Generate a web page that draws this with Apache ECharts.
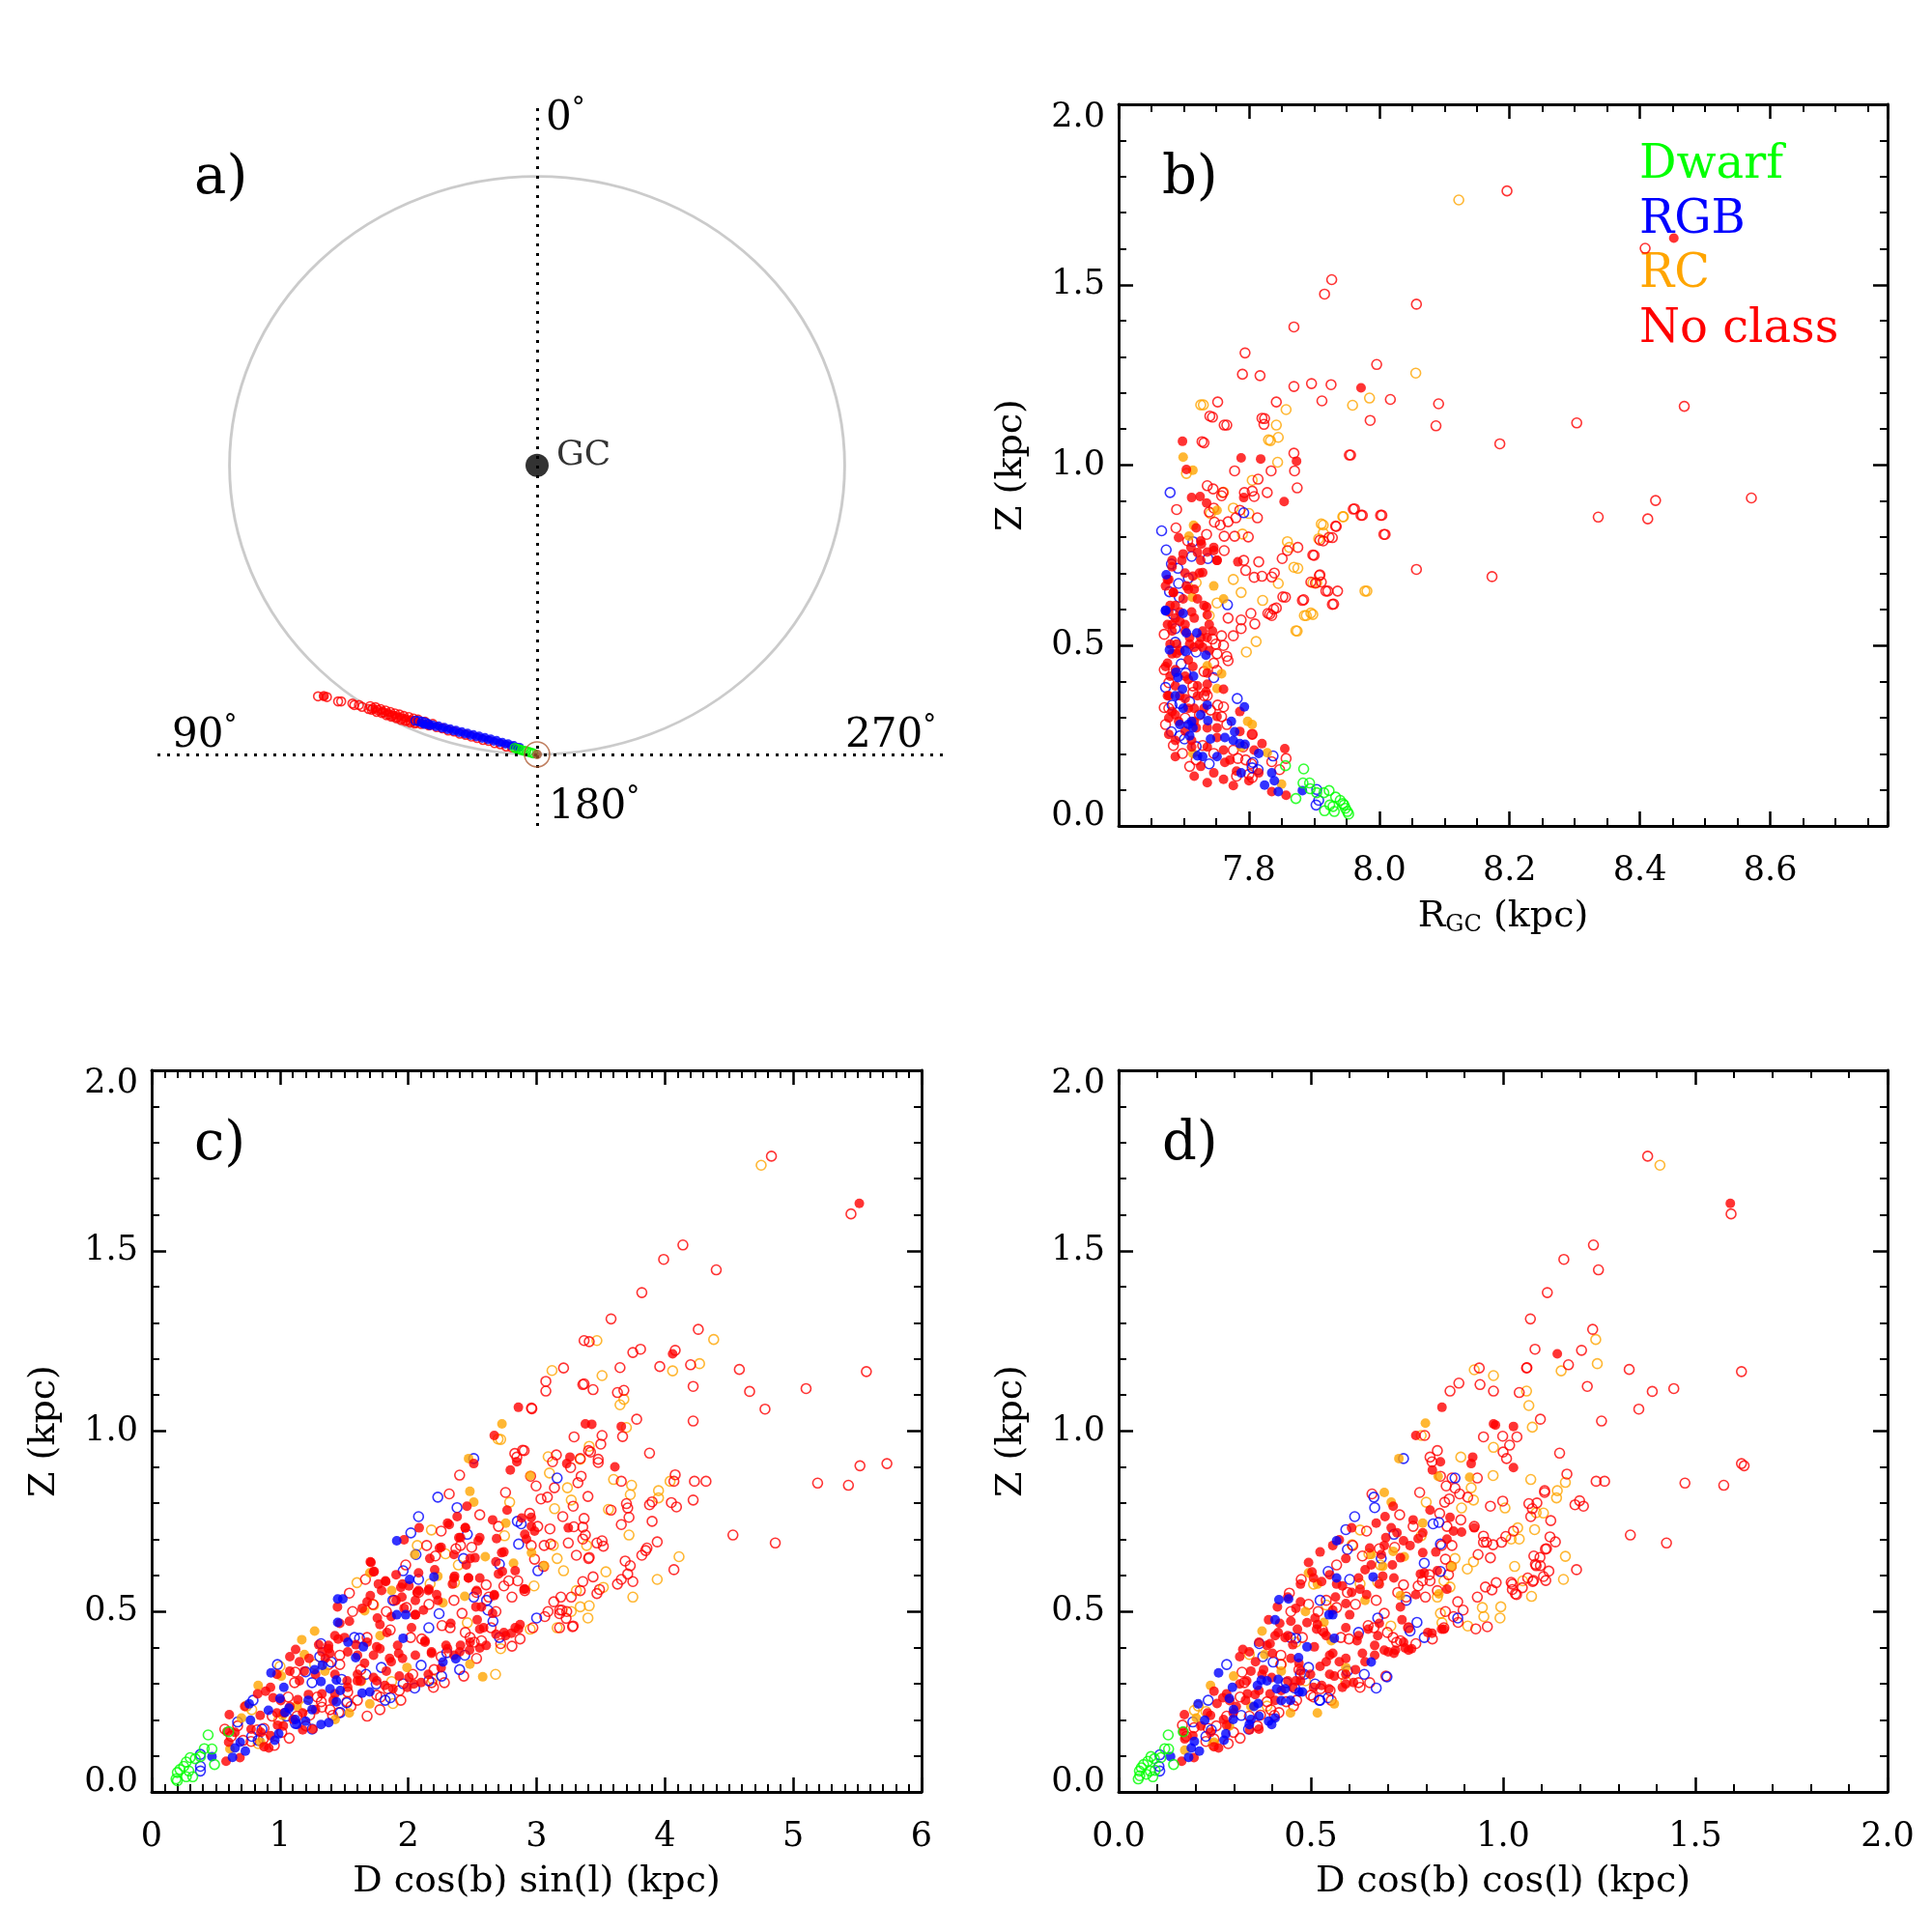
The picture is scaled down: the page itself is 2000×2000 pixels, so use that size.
<!DOCTYPE html>
<html>
<head>
<meta charset="utf-8">
<title>Z vs R_GC and projected distances</title>
<script src="https://cdn.jsdelivr.net/npm/echarts@6.0.0/dist/echarts.min.js"></script>
<style>
  html, body { margin: 0; padding: 0; background: #fff; }
  #main { width: 2000px; height: 2000px; }
</style>
</head>
<body>
<div id="main"></div>
<script>
/**
 * Four panels: a) top-down view, b) Z vs R_GC,
 * c) Z vs D cos(b) sin(l), d) Z vs D cos(b) cos(l)
 */

// ---------- panel a : X = D cos(b) sin(l), Y = D cos(b) cos(l) (kpc), Sun at 0,0 ----------
var R0 = 7.96;
var aRedOpen = [[5.67,1.60],[5.52,1.61],[5.44,1.58],[5.15,1.46],[5.07,1.46],[4.78,1.40],[4.73,1.36],[4.61,1.36],[4.53,1.31],[4.36,1.25],
  [4.32,1.33],[4.25,1.27],[4.18,1.30],[4.12,1.22],[4.05,1.25],[3.98,1.16],[3.92,1.21],[3.85,1.10],[3.8,1.17],[3.74,1.07],[3.68,1.13],
  [3.62,1.03],[3.56,1.10],[3.5,0.99],[3.45,1.06],[3.38,0.95],[3.32,1.03],[3.26,0.92],[3.2,0.99],[3.14,0.88],[3.08,0.96],[3.0,0.84],
  [2.9,0.9],[2.8,0.8],[2.7,0.84],[2.6,0.75],[2.45,0.72],[2.3,0.66],[2.15,0.63],[2.0,0.57],[1.85,0.54],[1.7,0.49],[1.55,0.45],
  [1.4,0.4],[1.25,0.37],[1.1,0.31],[0.95,0.28],[0.8,0.22],[0.65,0.19],
  [4.28,1.23],[4.15,1.17],[4.02,1.14],[3.9,1.08],[3.77,1.04],[3.64,1.0],[3.52,0.95],[3.4,0.92],[3.28,0.88],[3.16,0.85]];
var aRedFilled = [[5.52,1.60],[4.2,1.24],[4.0,1.2],[3.85,1.14],[3.7,1.08],[3.55,1.04],[3.4,0.99],[3.25,0.96],[3.1,0.9],[2.95,0.86],[2.8,0.82]];
var aBlueOpen = [[3.15,0.93],[3.07,0.92],[2.98,0.90],[2.9,0.88],[2.82,0.84]];
var aBlueFilled = [[3.0,0.87],[2.92,0.82],[2.85,0.85],[2.77,0.79],[2.7,0.82],[2.62,0.76],[2.55,0.79],[2.47,0.72],[2.4,0.75],[2.32,0.68],
  [2.25,0.71],[2.17,0.64],[2.1,0.67],[2.02,0.6],[1.95,0.63],[1.87,0.56],[1.8,0.59],[1.72,0.52],[1.65,0.55],[1.57,0.48],[1.5,0.51],
  [1.42,0.44],[1.35,0.47],[1.27,0.4],[1.2,0.43],[1.12,0.36],[1.05,0.39],[0.97,0.32],[0.9,0.34],[0.82,0.28],[0.75,0.3],[0.67,0.24],
  [0.6,0.25],[0.52,0.2],[0.45,0.2]];
var aGreenOpen = [[0.58,0.18],[0.52,0.16],[0.46,0.14],[0.4,0.12],[0.34,0.1],[0.28,0.09],[0.22,0.07],[0.16,0.05],[0.1,0.03]];

// ---------- panel b : R_GC (kpc), Z (kpc) ----------
var bGreenOpen = [[7.872,0.076],[7.884,0.158],[7.883,0.119],[7.893,0.119],[7.894,0.103],[7.904,0.092],[7.915,0.092],[7.916,0.042],
  [7.923,0.098],[7.924,0.058],[7.929,0.054],[7.931,0.04],[7.933,0.08],[7.94,0.071],[7.944,0.062],[7.946,0.058],[7.948,0.049],
  [7.951,0.04],[7.953,0.033],[7.856,0.167]];
var bBlueFilled = [[7.673,0.696],[7.672,0.598],[7.699,0.589],[7.704,0.535],[7.72,0.535],[7.734,0.473],[7.688,0.426],[7.691,0.411],
  [7.698,0.379],[7.699,0.326],[7.707,0.281],[7.712,0.29],[7.714,0.272],[7.726,0.308],[7.737,0.292],[7.741,0.241],[7.736,0.335],
  [7.763,0.245],[7.773,0.29],[7.776,0.237],[7.778,0.261],[7.786,0.228],[7.788,0.147],[7.793,0.33],[7.794,0.226],[7.815,0.201],
  [7.824,0.113],[7.835,0.147],[7.839,0.125],[7.845,0.095],[7.882,0.098],[7.729,0.192],[7.751,0.192],[7.687,0.361],[7.694,0.281],
  [7.678,0.488],[7.702,0.486],[7.715,0.415],[7.709,0.25],[7.721,0.194],[7.672,0.596]];
var bBlueOpen = [[7.666,0.818],[7.673,0.765],[7.679,0.924],[7.681,0.726],[7.691,0.714],[7.692,0.672],[7.678,0.649],[7.693,0.634],
  [7.707,0.687],[7.712,0.747],[7.714,0.788],[7.737,0.741],[7.746,0.411],[7.767,0.613],[7.782,0.353],[7.792,0.868],[7.684,0.586],
  [7.687,0.509],[7.703,0.485],[7.719,0.482],[7.696,0.449],[7.703,0.424],[7.672,0.384],[7.682,0.335],[7.694,0.339],[7.709,0.344],
  [7.681,0.261],[7.694,0.25],[7.701,0.241],[7.719,0.22],[7.739,0.172],[7.806,0.176],[7.805,0.161],[7.814,0.156],[7.837,0.194],
  [7.904,0.101],[7.907,0.071],[7.903,0.058],[7.687,0.547]];
var bOrangeFilled = [[7.699,1.022],[7.714,0.986],[7.708,0.803],[7.715,0.833],[7.713,0.634],[7.746,0.665],[7.761,0.629],[7.751,0.381],
  [7.758,0.422],[7.798,0.29],[7.805,0.281],[7.788,0.219],[7.828,0.203],[7.85,0.116],[7.714,0.201],[7.736,0.444],[7.751,0.875]];
var bOrangeOpen = [[7.73,1.167],[7.704,0.977],[7.857,1.154],[7.845,1.077],[7.833,1.068],[7.844,1.008],[7.805,0.958],[7.761,0.925],
  [7.79,0.809],[7.8,0.866],[7.776,0.881],[7.859,0.788],[7.862,0.772],[7.875,0.714],[7.845,0.672],[7.914,0.834],[7.914,0.812],
  [7.945,0.857],[7.981,0.651],[7.898,0.674],[7.904,0.674],[7.888,0.583],[7.898,0.586],[7.874,0.54],[7.811,0.511],[7.796,0.482],
  [7.821,0.625],[7.788,0.647],[7.776,0.683],[7.751,0.618],[7.739,0.583],[7.741,0.866],[7.719,0.674],[8.122,1.735],[8.056,1.255],
  [7.985,1.186],[7.959,1.166],[7.726,1.167],[7.842,1.111],[7.83,1.07],[7.944,0.857],[7.978,0.651],[7.911,0.837],
  [7.907,0.796],[7.885,0.583],[7.895,0.59],[7.872,0.541],[7.869,0.717]];
var bRedFilled = [[7.698,1.066],[7.704,0.988],[7.712,0.91],[7.725,0.913],[7.735,0.895],[7.788,1.02],[7.818,1.017],[7.873,1.011],
  [7.854,0.899],[7.792,0.91],[7.783,0.732],[7.727,0.781],[7.751,0.736],[7.729,0.702],[7.735,0.607],[7.744,0.54],[7.726,0.522],
  [7.707,0.46],[7.687,0.433],[7.677,0.593],[7.684,0.647],[7.736,0.393],[7.734,0.372],[7.761,0.379],[7.786,0.317],[7.805,0.253],
  [7.808,0.21],[7.781,0.152],[7.8,0.125],[7.835,0.095],[7.857,0.085],[7.855,0.214],[7.751,0.303],[7.712,0.237],[7.763,0.176],
  [7.721,0.758],[7.746,0.772],[7.704,0.665],[7.682,0.718],[7.675,0.683],[7.687,0.611],[7.694,0.567],[7.682,0.558],[7.712,0.593],
  [7.702,0.54],[7.709,0.504],[7.689,0.478],[7.675,0.451],[7.714,0.442],[7.721,0.388],[7.677,0.361],[7.702,0.353],[7.716,0.326],
  [7.677,0.299],[7.687,0.237],[7.736,0.272],[7.751,0.245],[7.761,0.21],[7.736,0.219],[7.719,0.272],[7.699,0.754],[7.692,0.799],
  [7.719,0.826],[7.672,0.665],[7.716,0.656],[7.702,0.415],[7.729,0.495],[7.687,0.308],[7.786,0.262],[7.82,0.228],[7.771,0.183],
  [7.815,0.147],[8.452,1.629],[7.972,1.214],
  [7.682,0.736],[7.677,0.683],[7.684,0.647],[7.679,0.611],[7.687,0.576],[7.682,0.54],[7.689,0.504],[7.697,0.736],[7.702,0.701],
  [7.707,0.656],[7.699,0.629],[7.694,0.593],[7.702,0.558],[7.709,0.522],[7.716,0.495],[7.724,0.701],[7.726,0.736],[7.721,0.629],
  [7.731,0.611],[7.736,0.585],[7.729,0.54],[7.724,0.504],[7.739,0.558],[7.746,0.763],[7.751,0.736],[7.711,0.772],[7.726,0.79],
  [7.736,0.759],[7.694,0.486],[7.675,0.558],[7.679,0.504],[7.682,0.477],[7.716,0.576],[7.714,0.692],[7.736,0.522],[7.739,0.486],
  [7.672,0.442],[7.679,0.415],[7.687,0.388],[7.675,0.361],[7.694,0.361],[7.682,0.317],[7.707,0.326],[7.692,0.29],[7.716,0.29],
  [7.702,0.263],[7.677,0.254],[7.687,0.192],[7.712,0.219],[7.726,0.165],[7.746,0.147],[7.761,0.129],[7.736,0.12],[7.776,0.112],
  [7.716,0.138],[7.751,0.272],[7.731,0.326],[7.721,0.361],[7.736,0.424],[7.707,0.406]];
var bRedOpen = [[7.752,1.175],[7.842,1.175],[7.744,1.133],[7.766,1.111],[7.824,1.129],[7.823,1.113],[7.731,1.062],[7.778,0.984],
  [7.834,0.984],[7.814,0.961],[7.869,1.033],[7.87,0.984],[7.874,0.937],[7.736,0.943],[7.745,0.934],[7.76,0.924],[7.758,0.915],
  [7.793,0.924],[7.805,0.928],[7.808,0.913],[7.828,0.924],[7.689,0.877],[7.739,0.87],[7.746,0.881],[7.786,0.875],[7.78,0.854],
  [7.813,0.854],[7.688,0.826],[7.706,0.79],[7.735,0.808],[7.747,0.842],[7.756,0.834],[7.768,0.843],[7.762,0.803],[7.778,0.803],
  [7.799,0.801],[7.762,0.763],[7.792,0.736],[7.795,0.708],[7.815,0.732],[7.82,0.692],[7.808,0.689],[7.839,0.701],[7.835,0.69],
  [7.859,0.763],[7.851,0.741],[7.875,0.772],[7.9,0.75],[7.914,0.79],[7.928,0.799],[7.934,0.83],[7.956,1.028],[7.962,0.879],
  [7.974,0.861],[8.004,0.861],[8.009,0.808],[7.936,0.651],[7.884,0.627],[7.909,0.696],[7.911,0.676],[7.921,0.651],[7.93,0.615],
  [7.856,0.634],[7.842,0.604],[7.835,0.583],[7.829,0.589],[7.809,0.56],[7.803,0.589],[7.788,0.571],[7.788,0.547],[7.776,0.527],
  [7.768,0.576],[7.758,0.527],[7.744,0.518],[7.749,0.504],[7.761,0.5],[7.751,0.477],[7.766,0.47],[7.768,0.458],[7.746,0.451],
  [7.751,0.431],[7.731,0.428],[7.714,0.388],[7.714,0.37],[7.736,0.361],[7.752,0.335],[7.741,0.321],[7.758,0.303],[7.724,0.308],
  [7.702,0.299],[7.677,0.326],[7.67,0.328],[7.672,0.281],[7.684,0.223],[7.698,0.201],[7.719,0.183],[7.709,0.165],[7.729,0.223],
  [7.776,0.21],[7.783,0.187],[7.795,0.183],[7.804,0.172],[7.8,0.143],[7.805,0.134],[7.847,0.156],[7.857,0.187],[7.835,0.178],
  [7.781,0.138],[7.746,0.201],[7.677,0.397],[7.731,0.361],[7.791,0.219],[7.766,0.281],[7.761,0.33],[7.805,0.254],[7.67,0.531],
  [7.67,0.433],[8.196,1.76],[8.408,1.601],[7.927,1.514],[7.916,1.474],[8.057,1.446],[7.869,1.383],[7.794,1.311],[7.79,1.252],
  [7.817,1.248],[7.996,1.279],[7.869,1.218],[7.896,1.226],[7.926,1.223],[8.017,1.182],[8.091,1.17],[8.087,1.109],[7.912,1.178],
  [7.986,1.124],[8.468,1.163],[8.303,1.117],[8.185,1.059],[7.954,1.028],[7.74,1.136],[7.762,1.111],[7.82,1.13],
  [7.728,1.065],[8.424,0.902],[8.412,0.851],[8.336,0.856],[8.571,0.909],[8.057,0.711],[8.173,0.691],[7.96,0.878],[7.972,0.861],
  [8.002,0.861],[8.007,0.808],[7.923,0.8],[7.933,0.831],[7.898,0.751],[7.909,0.792],[7.895,0.676],[7.902,0.673],[7.908,0.694],
  [7.918,0.651],[7.928,0.614],[7.882,0.625],[7.852,0.635],[7.832,0.587],[7.838,0.601]];

// ---------- panel c : D cos(b) sin(l) (kpc), Z (kpc) ----------
var cGreenOpen = [[0.19,0.036],[0.2,0.054],[0.22,0.062],[0.25,0.071],[0.27,0.083],[0.3,0.095],[0.34,0.092],[0.29,0.058],[0.32,0.042],
  [0.27,0.042],[0.38,0.098],[0.41,0.12],[0.44,0.158],[0.47,0.119],[0.49,0.076],[0.6,0.167],[0.2,0.031]];
var cBlueFilled = [[0.47,0.098],[0.63,0.096],[0.65,0.122],[0.69,0.138],[0.73,0.113],[0.77,0.199],[0.76,0.244],[0.91,0.226],[0.93,0.33],
  [0.96,0.143],[0.99,0.161],[1.0,0.259],[1.03,0.29],[1.04,0.22],[1.07,0.232],[1.13,0.187],[1.2,0.196],[1.22,0.254],[1.25,0.228],
  [1.27,0.339],[1.32,0.187],[1.32,0.306],[1.33,0.351],[1.38,0.192],[1.39,0.286],[1.44,0.25],[1.44,0.31],[1.47,0.281],[1.53,0.415],
  [1.59,0.372],[1.64,0.274],[1.65,0.402],[1.7,0.277],[1.91,0.696],[1.91,0.491],[1.96,0.426],[1.98,0.491],[2.01,0.589],[2.2,0.596],
  [1.45,0.535],[1.49,0.535],[1.45,0.47],[2.27,0.36],[1.12,0.201],[2.37,0.369]];
var cBlueOpen = [[0.38,0.104],[0.38,0.071],[0.38,0.058],[0.67,0.194],[0.78,0.154],[0.79,0.254],[0.83,0.143],[0.86,0.174],[0.98,0.353],
  [1.05,0.21],[1.12,0.19],[1.2,0.333],[1.25,0.174],[1.25,0.303],[1.32,0.411],[1.31,0.375],[1.4,0.36],[1.47,0.22],[1.52,0.247],
  [1.58,0.428],[1.62,0.426],[1.67,0.326],[1.75,0.299],[1.79,0.345],[1.82,0.254],[1.86,0.261],[1.88,0.531],[1.96,0.613],[2.02,0.718],
  [2.06,0.658],[2.08,0.763],[2.08,0.589],[2.05,0.288],[2.1,0.351],[2.16,0.455],[2.16,0.308],[2.23,0.817],[2.24,0.494],[2.26,0.321],
  [2.3,0.386],[2.38,0.788],[2.4,0.339],[2.43,0.647],[2.44,0.379],[2.46,0.714],[2.51,0.54],[2.51,0.924],[2.61,0.531],[2.62,0.504],
  [2.66,0.473],[2.71,0.631],[2.71,0.428],[2.85,0.75],[2.88,0.743],[2.86,0.687],[3.0,0.482],[3.01,0.613],[3.16,0.87],[1.96,0.3],
  [1.48,0.312]];
var cOrangeFilled = [[0.61,0.119],[0.7,0.205],[0.83,0.295],[0.85,0.138],[1.01,0.321],[1.02,0.212],[1.17,0.422],[1.19,0.381],
  [1.27,0.446],[1.35,0.335],[1.43,0.201],[1.54,0.219],[1.66,0.502],[1.7,0.607],[1.78,0.433],[1.87,0.558],[1.99,0.345],[2.05,0.658],
  [2.23,0.598],[2.27,0.524],[2.44,0.542],[2.48,0.833],[2.51,0.803],[2.48,0.354],[2.6,0.652],[2.73,1.02],[2.76,0.745],[2.82,0.634],
  [2.95,0.877],[2.96,0.663],[3.06,0.627],[2.47,0.924],[1.7,0.244],[1.13,0.238],[2.58,0.319]];
var cOrangeOpen = [[0.78,0.228],[0.74,0.238],[0.83,0.134],[1.0,0.348],[0.99,0.199],[1.2,0.238],[1.27,0.353],[1.6,0.58],[1.63,0.308],
  [1.73,0.518],[1.87,0.306],[2.07,0.683],[2.18,0.726],[2.17,0.577],[2.29,0.66],[2.36,0.58],[2.39,0.629],[2.46,0.469],[2.79,0.803],
  [2.75,0.71],[2.98,0.571],[3.1,0.884],[3.13,0.683],[3.16,0.647],[3.21,0.613],[3.24,0.843],[3.27,0.809],[3.31,0.558],[3.27,0.5],
  [3.34,0.513],[3.39,0.683],[3.4,0.482],[3.16,0.455],[2.95,0.451],[3.14,0.785],[2.72,0.977],[2.72,0.397],[2.68,0.326],[1.88,0.245],
  [2.19,0.312],[4.75,1.737],[3.47,1.251],[4.38,1.254],[4.27,1.187],[4.06,1.167],[3.12,1.168],[3.51,1.154],[3.68,1.088],[3.65,1.073],
  [3.7,1.01],[2.7,0.978],[3.41,0.958],[3.34,0.922],[3.09,0.929],[4.04,0.861],[3.95,0.835],[3.95,0.815],[3.94,0.589],[4.11,0.652],
  [3.74,0.85],[3.73,0.824],[3.72,0.712],[3.75,0.54],[3.6,0.866],[3.56,0.783],[3.52,0.567],[3.41,0.516],[3.54,0.61]];
var cRedFilled = [[0.58,0.085],[0.587,0.167],[0.605,0.214],[0.688,0.095],[0.846,0.212],[0.876,0.125],[0.888,0.279],[0.913,0.122],
  [0.946,0.261],[0.981,0.185],[1.006,0.253],[1.031,0.219],[1.077,0.375],[1.122,0.395],[1.139,0.256],[1.152,0.308],[1.177,0.172],
  [1.189,0.335],[1.222,0.27],[1.257,0.174],[1.277,0.326],[1.302,0.408],[1.378,0.406],[1.39,0.384],[1.415,0.254],[1.428,0.433],
  [1.448,0.513],[1.466,0.467],[1.503,0.428],[1.523,0.308],[1.541,0.473],[1.591,0.408],[1.603,0.308],[1.641,0.509],[1.659,0.357],
  [1.679,0.527],[1.709,0.636],[1.729,0.61],[1.754,0.402],[1.759,0.482],[1.779,0.464],[1.817,0.295],[1.824,0.583],[1.834,0.442],
  [1.867,0.361],[1.88,0.286],[1.905,0.602],[1.925,0.384],[1.93,0.321],[1.95,0.54],[1.955,0.576],[1.967,0.699],[1.992,0.29],
  [2.005,0.571],[2.025,0.455],[2.043,0.299],[2.055,0.491],[2.068,0.553],[2.085,0.732],[2.1,0.303],[2.13,0.419],[2.161,0.562],
  [2.181,0.384],[2.206,0.616],[2.221,0.547],[2.243,0.676],[2.294,0.406],[2.306,0.745],[2.331,0.467],[2.344,0.576],[2.356,0.658],
  [2.361,0.598],[2.381,0.763],[2.394,0.705],[2.401,0.388],[2.444,0.732],[2.452,0.629],[2.457,0.792],[2.469,0.593],[2.477,0.393],
  [2.52,0.649],[2.527,0.513],[2.537,0.477],[2.545,0.696],[2.557,0.399],[2.587,0.455],[2.657,0.754],[2.67,0.547],[2.688,0.702],
  [2.703,0.604],[2.728,0.663],[2.745,0.442],[2.77,0.781],[2.795,0.892],[2.803,0.44],[2.833,0.613],[2.846,0.915],[2.858,0.451],
  [2.858,1.066],[2.903,0.562],[2.921,0.701],[2.958,0.761],[2.984,0.723],[3.235,0.91],[3.26,0.928],[3.247,0.732],[3.38,1.02],
  [2.67,0.988],[2.683,0.437],[5.515,1.631],[4.06,1.214],[3.66,1.013],[3.43,1.019],[3.61,0.901],[2.51,0.91],
  [1.704,0.638],[1.734,0.611],[1.822,0.585],[1.767,0.576],[1.704,0.544],[1.792,0.558],[1.942,0.567],[1.967,0.509],[1.905,0.531],
  [1.867,0.486],[2.055,0.531],[2.08,0.558],[2.156,0.558],[2.055,0.491],[2.118,0.504],[2.231,0.531],[2.08,0.607],[2.168,0.647],
  [2.256,0.678],[2.319,0.741],[2.444,0.732],[2.407,0.705],[2.356,0.593],[2.469,0.593],[2.482,0.647],[2.532,0.558],[2.557,0.593],
  [2.57,0.513],[2.657,0.495],[2.67,0.544],[2.683,0.638],[2.733,0.611],[2.745,0.665],[2.557,0.705],[2.883,0.759],[2.908,0.714],
  [2.959,0.736],[2.908,0.562],[2.758,0.433],[2.833,0.455],[2.871,0.464],[2.557,0.451],[2.607,0.406],[2.482,0.415],[2.407,0.406],
  [2.356,0.379],[2.306,0.397],[2.256,0.344],[2.181,0.388],[2.13,0.415],[2.055,0.379],[1.955,0.37],[1.917,0.406],[1.854,0.37],
  [1.779,0.397],[1.729,0.379],[1.679,0.415],[1.604,0.379],[1.528,0.388],[1.453,0.424],[1.378,0.397],[1.353,0.37],[1.428,0.326],
  [1.604,0.326],[1.754,0.308],[1.829,0.335],[2.005,0.317],[2.156,0.326],
  [0.775,0.174],[0.851,0.165],[0.926,0.156],[1.026,0.183],[1.102,0.201],[1.177,0.219],[1.277,0.228],[1.327,0.272],[1.428,0.272],
  [1.528,0.29],[1.629,0.308],[1.729,0.317],[0.725,0.237],[0.826,0.272],[0.926,0.29],[0.976,0.326],[1.077,0.335],[1.152,0.361],
  [1.227,0.37],[1.327,0.388],[1.077,0.237],[0.976,0.219],[0.65,0.165],[0.6,0.138]];
var cRedOpen = [[0.57,0.174],[0.62,0.154],[0.67,0.183],[0.713,0.143],[0.775,0.14],[0.821,0.172],[0.876,0.176],[0.871,0.147],
  [0.939,0.21],[0.956,0.129],[1.014,0.165],[1.072,0.149],[1.064,0.263],[1.119,0.332],[1.114,0.303],[1.132,0.21],[1.202,0.183],
  [1.232,0.213],[1.322,0.25],[1.327,0.235],[1.39,0.228],[1.41,0.212],[1.458,0.22],[1.466,0.353],[1.466,0.379],[1.523,0.25],
  [1.541,0.551],[1.566,0.5],[1.553,0.237],[1.603,0.254],[1.629,0.339],[1.666,0.589],[1.679,0.428],[1.724,0.52],[1.754,0.268],
  [1.784,0.263],[1.829,0.5],[1.842,0.286],[1.859,0.449],[1.892,0.531],[1.93,0.281],[1.942,0.254],[1.98,0.629],[1.985,0.511],
  [2.018,0.428],[2.035,0.326],[2.08,0.553],[2.105,0.424],[2.143,0.683],[2.161,0.52],[2.181,0.303],[2.196,0.29],[2.211,0.654],
  [2.256,0.723],[2.263,0.461],[2.281,0.303],[2.319,0.826],[2.326,0.455],[2.356,0.531],[2.371,0.674],[2.419,0.495],[2.432,0.321],
  [2.444,0.442],[2.482,0.428],[2.494,0.678],[2.514,0.415],[2.532,0.553],[2.557,0.768],[2.57,0.419],[2.607,0.574],[2.627,0.54],
  [2.645,0.455],[2.703,0.736],[2.72,0.411],[2.745,0.571],[2.758,0.83],[2.783,0.585],[2.808,0.54],[2.846,0.928],[2.853,0.585],
  [2.871,0.424],[2.903,0.946],[2.908,0.558],[2.946,0.772],[2.953,0.875],[2.958,0.683],[2.971,0.455],[2.984,0.645],[2.996,0.848],
  [3.009,0.736],[3.034,0.812],[3.054,0.625],[3.059,0.683],[3.064,0.486],[3.072,1.138],[3.072,1.111],[3.084,0.817],[3.089,0.5],
  [3.104,0.729],[3.109,0.687],[3.124,0.915],[3.134,0.527],[3.139,0.843],[3.154,0.934],[3.179,0.455],[3.179,0.494],[3.189,0.54],
  [3.197,0.504],[3.204,0.763],[3.235,0.5],[3.285,0.46],[3.247,0.69],[3.265,0.899],[3.285,0.792],[3.292,0.984],[3.31,0.656],
  [3.322,0.857],[3.34,0.924],[3.347,0.875],[3.36,0.734],[3.36,0.701],[3.36,0.583],[3.36,1.129],[3.405,0.946],[3.405,0.647],
  [3.21,1.175],[2.963,1.062],[2.808,0.404],[2.683,0.5],[2.532,0.37],[2.407,0.683],[2.256,0.375],[2.201,0.339],[1.779,0.228],
  [1.679,0.21],[1.378,0.353],[1.29,0.263],[1.528,0.277],
  [4.83,1.762],[5.45,1.602],[4.14,1.516],[3.99,1.476],[4.4,1.447],[3.82,1.384],[3.58,1.311],[3.37,1.251],[3.41,1.248],[4.26,1.282],
  [3.75,1.218],[3.81,1.227],[4.08,1.224],[4.2,1.184],[3.96,1.179],[4.58,1.171],[5.57,1.165],[5.1,1.118],[4.66,1.11],[4.22,1.124],
  [3.37,1.131],[3.44,1.115],[3.65,1.176],[3.63,1.107],[3.68,1.113],[4.78,1.061],[4.22,1.028],[3.78,1.033],[2.96,1.064],[3.67,0.985],
  [3.51,0.988],[3.5,0.964],[3.48,0.922],[3.48,0.913],[3.88,0.939],[2.89,0.947],[2.83,0.938],[3.42,0.942],[2.4,0.878],[4.08,0.879],
  [4.23,0.861],[4.32,0.861],[5.73,0.91],[5.52,0.904],[5.19,0.856],[5.43,0.85],[4.53,0.712],[4.86,0.69],[3.88,0.796],[3.9,0.804],
  [4.05,0.802],[4.09,0.79],[4.22,0.809],[3.94,0.693],[4.07,0.616],[3.9,0.75],[3.71,0.787],[3.66,0.741],[3.72,0.761],[3.69,0.64],
  [3.51,0.696],[3.52,0.681],[3.47,0.69],[3.41,0.65],[3.86,0.676],[3.85,0.669],[3.82,0.656],[3.73,0.627],[3.71,0.604],[3.66,0.589],
  [3.75,0.583],[3.49,0.561],[3.47,0.55],[3.28,0.458],[3.18,0.504],[3.23,0.481],[3.27,0.54],[3.34,0.558],[3.44,0.596],[3.63,0.576],
  [3.58,0.781],[3.7,0.799],[3.66,0.861],[3.4,0.819],[3.37,0.758],[3.29,0.735],[3.38,0.712],[4.07,0.861]];

// ---------- panel d : D cos(b) cos(l) (kpc), Z (kpc) ----------
var dGreenOpen = [[0.051,0.036],[0.054,0.058],[0.059,0.067],[0.065,0.076],[0.076,0.085],[0.084,0.098],[0.093,0.092],[0.072,0.049],
  [0.089,0.042],[0.082,0.058],[0.11,0.095],[0.12,0.12],[0.13,0.119],[0.129,0.158],[0.143,0.076],[0.168,0.167],[0.055,0.045],
  [0.095,0.06]];
var dBlueFilled = [[0.135,0.098],[0.182,0.096],[0.189,0.122],[0.197,0.14],[0.21,0.113],[0.207,0.244],[0.224,0.199],[0.26,0.33],
  [0.274,0.143],[0.279,0.161],[0.288,0.259],[0.296,0.29],[0.299,0.228],[0.298,0.201],[0.34,0.187],[0.344,0.201],[0.361,0.295],
  [0.363,0.245],[0.371,0.31],[0.386,0.308],[0.398,0.187],[0.411,0.286],[0.415,0.312],[0.423,0.253],[0.433,0.286],[0.447,0.254],
  [0.468,0.372],[0.469,0.277],[0.478,0.277],[0.49,0.402],[0.547,0.491],[0.557,0.491],[0.561,0.426],[0.567,0.696],[0.567,0.593],
  [0.407,0.205],[0.417,0.533],[0.442,0.535],[0.407,0.477],[0.662,0.596],[0.657,0.36],[0.352,0.237],[0.365,0.21],[0.39,0.196]];
var dBlueOpen = [[0.107,0.103],[0.105,0.071],[0.107,0.058],[0.193,0.194],[0.227,0.154],[0.233,0.254],[0.241,0.172],[0.281,0.353],
  [0.319,0.212],[0.338,0.174],[0.366,0.411],[0.375,0.375],[0.402,0.36],[0.436,0.303],[0.447,0.428],[0.461,0.426],[0.483,0.326],
  [0.494,0.345],[0.511,0.299],[0.524,0.254],[0.545,0.261],[0.524,0.531],[0.545,0.611],[0.591,0.727],[0.595,0.672],[0.601,0.589],
  [0.614,0.763],[0.624,0.442],[0.639,0.326],[0.664,0.817],[0.666,0.788],[0.67,0.288],[0.674,0.482],[0.683,0.647],[0.698,0.319],
  [0.716,0.714],[0.741,0.924],[0.748,0.531],[0.758,0.446],[0.776,0.47],[0.795,0.428],[0.795,0.634],[0.818,0.743],[0.833,0.747],
  [0.837,0.687],[0.837,0.611],[0.882,0.482],[0.875,0.87],[0.458,0.288],[0.473,0.326],[0.522,0.254],[0.595,0.335]];
var dOrangeFilled = [[0.172,0.116],[0.202,0.205],[0.239,0.295],[0.248,0.138],[0.288,0.183],[0.299,0.321],[0.344,0.237],[0.373,0.446],
  [0.38,0.381],[0.423,0.335],[0.447,0.219],[0.486,0.5],[0.494,0.607],[0.517,0.219],[0.517,0.576],[0.534,0.47],[0.553,0.419],
  [0.591,0.345],[0.641,0.531],[0.657,0.658],[0.687,0.625],[0.691,0.83],[0.709,0.803],[0.714,0.667],[0.733,0.544],[0.743,0.652],
  [0.791,0.745],[0.798,1.022],[0.831,0.875],[0.867,0.625],[0.913,0.872],[0.729,0.924],[0.833,0.549],[0.561,0.244]];
var dOrangeOpen = [[0.197,0.226],[0.207,0.238],[0.227,0.223],[0.246,0.131],[0.34,0.381],[0.386,0.238],[0.423,0.354],[0.461,0.415],
  [0.486,0.308],[0.507,0.576],[0.54,0.518],[0.591,0.306],[0.607,0.685],[0.628,0.726],[0.628,0.577],[0.651,0.66],[0.674,0.582],
  [0.681,0.629],[0.708,0.46],[0.787,0.71],[0.787,0.988],[0.8,0.803],[0.829,0.54],[0.837,0.495],[0.846,0.585],[0.862,0.568],
  [0.875,0.647],[0.89,0.928],[0.892,0.787],[0.907,0.618],[0.917,0.843],[0.923,0.809],[0.923,0.638],[0.946,0.511],[0.95,0.486],
  [0.975,1.154],[0.974,0.877],[0.994,0.513],[0.975,0.955],[1.005,0.787],[1.021,0.701],[1.03,0.625],[1.042,0.701],[1.051,0.585],
  [1.061,1.111],[1.067,1.071],[1.072,0.866],[1.076,1.011],[1.074,0.542],[1.086,0.774],[1.038,0.732],[0.908,0.46],[0.992,0.482],
  [0.925,1.17],[0.841,0.469],[1.408,1.737],[1.241,1.254],[1.245,1.187],[1.151,1.167],[1.141,0.835],[1.139,0.815],[1.162,0.858],
  [1.157,0.589],[1.162,0.653],[1.105,0.773],[1.082,0.727]];
var dRedFilled = [[0.164,0.085],[0.168,0.167],[0.171,0.214],[0.196,0.095],[0.239,0.212],[0.248,0.125],[0.248,0.279],[0.26,0.122],
  [0.271,0.261],[0.281,0.185],[0.289,0.253],[0.298,0.219],[0.315,0.375],[0.323,0.395],[0.33,0.254],[0.333,0.308],[0.341,0.172],
  [0.344,0.335],[0.355,0.27],[0.365,0.174],[0.373,0.326],[0.386,0.406],[0.394,0.411],[0.4,0.384],[0.407,0.254],[0.407,0.433],
  [0.413,0.513],[0.419,0.467],[0.433,0.428],[0.44,0.308],[0.448,0.473],[0.453,0.408],[0.461,0.308],[0.461,0.509],[0.469,0.357],
  [0.473,0.527],[0.494,0.636],[0.503,0.61],[0.509,0.402],[0.511,0.482],[0.517,0.464],[0.528,0.295],[0.528,0.583],[0.534,0.442],
  [0.54,0.361],[0.547,0.286],[0.549,0.602],[0.557,0.384],[0.561,0.321],[0.564,0.54],[0.567,0.576],[0.574,0.699],[0.582,0.29],
  [0.582,0.571],[0.591,0.455],[0.591,0.299],[0.601,0.491],[0.606,0.553],[0.606,0.732],[0.611,0.303],[0.62,0.419],[0.628,0.562],
  [0.634,0.384],[0.641,0.616],[0.645,0.547],[0.653,0.676],[0.666,0.406],[0.67,0.745],[0.678,0.467],[0.678,0.576],[0.683,0.658],
  [0.687,0.598],[0.693,0.763],[0.695,0.705],[0.701,0.388],[0.709,0.732],[0.712,0.629],[0.714,0.792],[0.716,0.593],[0.72,0.393],
  [0.733,0.649],[0.733,0.513],[0.737,0.477],[0.741,0.696],[0.745,0.399],[0.754,0.393],[0.754,0.455],[0.766,0.754],[0.773,0.547],
  [0.779,0.702],[0.785,0.604],[0.791,0.663],[0.795,0.607],[0.804,0.442],[0.81,0.781],[0.816,0.892],[0.815,0.44],[0.829,0.613],
  [0.837,0.915],[0.84,0.451],[0.841,1.066],[0.854,0.562],[0.854,0.701],[0.862,0.761],[0.871,0.723],[0.917,0.91],[0.921,0.928],
  [0.925,0.732],[0.975,1.02],[0.98,1.017],[1.027,1.013],[1.027,0.899],[0.773,0.988],[0.892,0.72],[0.846,0.451],[1.591,1.631],
  [1.141,1.214],
  [0.356,0.361],[0.377,0.339],[0.398,0.317],[0.448,0.37],[0.473,0.335],[0.499,0.326],[0.524,0.348],[0.549,0.379],[0.574,0.361],
  [0.591,0.37],[0.616,0.339],[0.641,0.361],[0.666,0.379],[0.691,0.393],[0.716,0.384],[0.741,0.415],[0.762,0.397],[0.54,0.433],
  [0.515,0.451],[0.49,0.469],[0.465,0.451],[0.44,0.433],[0.415,0.442],[0.39,0.477],[0.365,0.415],[0.34,0.388],[0.315,0.299],
  [0.281,0.272],[0.256,0.245],[0.231,0.219],[0.214,0.183],[0.193,0.156],[0.172,0.147],[0.239,0.165],[0.273,0.201],[0.306,0.237],
  [0.335,0.272],[0.365,0.281],[0.394,0.272],[0.423,0.281],[0.453,0.29],[0.473,0.308],[0.507,0.29],[0.549,0.326],[0.591,0.326],
  [0.624,0.433],[0.649,0.451],[0.674,0.433],[0.557,0.504],[0.591,0.522],[0.624,0.593],[0.657,0.629],[0.691,0.683],[0.724,0.718],
  [0.758,0.683],[0.791,0.718],[0.825,0.665],[0.507,0.593],[0.473,0.576],[0.44,0.54],[0.524,0.665],[0.557,0.683],[0.591,0.647]];
var dRedOpen = [[0.166,0.185],[0.176,0.154],[0.196,0.178],[0.233,0.176],[0.227,0.14],[0.248,0.147],[0.254,0.183],[0.281,0.21],
  [0.285,0.134],[0.299,0.165],[0.316,0.149],[0.316,0.263],[0.321,0.332],[0.327,0.303],[0.34,0.21],[0.361,0.183],[0.369,0.213],
  [0.386,0.25],[0.396,0.228],[0.405,0.212],[0.417,0.22],[0.422,0.353],[0.422,0.379],[0.436,0.25],[0.444,0.551],[0.448,0.5],
  [0.455,0.238],[0.463,0.254],[0.469,0.339],[0.475,0.589],[0.478,0.428],[0.494,0.52],[0.5,0.268],[0.507,0.263],[0.519,0.5],
  [0.525,0.286],[0.53,0.449],[0.54,0.531],[0.55,0.281],[0.553,0.254],[0.567,0.629],[0.567,0.511],[0.578,0.428],[0.582,0.326],
  [0.595,0.553],[0.599,0.424],[0.609,0.683],[0.616,0.52],[0.624,0.303],[0.628,0.29],[0.634,0.654],[0.645,0.723],[0.649,0.461],
  [0.653,0.303],[0.659,0.826],[0.664,0.455],[0.67,0.531],[0.678,0.674],[0.691,0.495],[0.695,0.321],[0.699,0.442],[0.714,0.428],
  [0.718,0.678],[0.723,0.415],[0.726,0.553],[0.731,0.768],[0.733,0.419],[0.741,0.574],[0.748,0.54],[0.754,0.455],[0.766,0.736],
  [0.773,0.411],[0.779,0.571],[0.783,0.83],[0.79,0.585],[0.798,0.54],[0.81,0.928],[0.81,0.585],[0.816,0.424],[0.829,0.946],
  [0.829,0.558],[0.835,0.772],[0.837,0.875],[0.84,0.683],[0.846,0.455],[0.85,0.645],[0.852,0.848],[0.854,0.736],[0.86,0.812],
  [0.865,0.625],[0.867,0.683],[0.871,0.486],[0.862,1.111],[0.885,1.133],[0.938,1.175],[0.94,1.129],[0.975,1.111],[1.042,1.107],
  [1.061,1.175],[1.097,1.033],[0.949,0.984],[0.999,0.986],[1.017,0.961],[1.036,0.984],[1.0,0.942],[1.009,0.924],[1.108,0.83],
  [1.067,0.799],[1.088,0.801],[1.076,0.785],[1.072,0.763],[1.124,0.752],[1.027,0.723],[1.007,0.708],[0.996,0.692],[0.974,0.685],
  [0.949,0.709],[0.949,0.692],[0.935,0.658],[0.967,0.649],[1.08,0.654],[1.084,0.631],[1.097,0.627],[1.113,0.674],[1.111,0.586],
  [0.982,0.58],[0.954,0.568],[0.933,0.54],[0.971,0.56],[1.024,0.576],[1.032,0.549],[1.077,0.583],[0.882,0.527],[0.896,0.504],
  [0.883,0.47],[0.85,0.5],[0.929,0.452],[0.959,0.458],[0.887,0.826],[0.908,0.817],[0.933,0.87],[0.967,0.792],[0.999,0.806],
  [0.848,0.803],[0.875,0.842],[0.89,0.754],[0.925,0.736],[0.957,0.692],[0.867,0.87],[0.796,0.988],[0.815,0.915],[0.808,0.602],
  [0.858,0.602],
  [1.376,1.762],[1.593,1.602],[1.235,1.516],[1.158,1.476],[1.248,1.447],[1.115,1.384],[1.071,1.311],[1.233,1.282],[1.204,1.224],
  [1.083,1.227],[1.062,1.176],[1.17,1.184],[1.328,1.171],[1.62,1.165],[1.444,1.118],[1.388,1.11],[1.219,1.124],[1.353,1.061],
  [1.256,1.028],[1.147,0.939],[1.242,0.861],[1.264,0.861],[1.62,0.91],[1.627,0.904],[1.473,0.856],[1.574,0.85],[1.331,0.712],
  [1.425,0.69],[1.187,0.796],[1.199,0.807],[1.209,0.792],[1.166,0.881],[1.108,0.835],[1.191,0.616],[1.122,0.707],[1.136,0.693],
  [1.11,0.673],[1.096,0.65],[1.086,0.627],[1.079,0.586],[1.05,0.566],[1.021,0.581],[1.024,0.561],[1.064,0.593],[1.035,0.547],
  [1.119,0.612],[1.105,0.597]];

// ---------- styling ----------
var GREEN = '#00ff00', BLUE = '#0000ff', ORANGE = '#ffa500', RED = '#ff0000';
var FONT = 'DejaVu Serif';
var TICK_FONT = 35, TITLE_FONT = 38;

// panel a layout (pixels) and axis ranges
var aGrid = { left: 156, top: 112, width: 820, height: 743 };
var aX = [-10.5, 10], aY = [-1.97, 17.8];
var pxX = aGrid.width / (aX[1] - aX[0]);
var pxY = aGrid.height / (aY[1] - aY[0]);

function dots(data, color, filled, xi, yi, size) {
  return {
    type: 'scatter', xAxisIndex: xi, yAxisIndex: yi, data: data,
    symbol: 'circle', symbolSize: size || 10, silent: true,
    itemStyle: filled ? { color: color }
                      : { color: 'rgba(255,255,255,0)', borderColor: color, borderWidth: 1.6 }
  };
}

function tickLine() { return { color: '#000', width: 2.5 }; }

// one value axis of a framed panel
function frameAxis(kind, grid, pos, min, max, interval, minor, labelOpt, name, nameGap) {
  var ax = {
    type: 'value', gridIndex: grid, position: pos, min: min, max: max, interval: interval,
    axisLine: { show: true, onZero: false, lineStyle: { color: '#000', width: 2.8 } },
    axisTick: { show: true, inside: true, length: 15, lineStyle: tickLine() },
    minorTick: { show: true, splitNumber: minor, length: 8, lineStyle: { color: '#000', width: 2 } },
    splitLine: { show: false },
    minorSplitLine: { show: false },
    axisLabel: labelOpt || { show: false }
  };
  if (name) {
    ax.name = name;
    ax.nameLocation = 'middle';
    ax.nameGap = nameGap;
    ax.nameTextStyle = {
      fontFamily: FONT, fontSize: TITLE_FONT, color: '#000',
      rich: { sub: { fontFamily: FONT, fontSize: 24, color: '#000', padding: [18, 0, 0, 0] } }
    };
    if (kind === 'y') ax.nameRotate = 90;
  }
  return ax;
}

function xLabels(fmt) {
  return { show: true, margin: 29, fontFamily: FONT, fontSize: TICK_FONT, color: '#000', formatter: fmt };
}

function yLabels() {
  return {
    show: true, margin: 14, fontFamily: FONT, fontSize: TICK_FONT, color: '#000',
    formatter: function (v) {
      var s = v.toFixed(1);
      if (v < 0.01) return '{lo|' + s + '}';
      if (v > 1.99) return '{hi|' + s + '}';
      return s;
    },
    rich: {
      lo: { fontFamily: FONT, fontSize: TICK_FONT, color: '#000', padding: [0, 0, 20, 0] },
      hi: { fontFamily: FONT, fontSize: TICK_FONT, color: '#000', padding: [28, 0, 0, 0] }
    }
  };
}

// x tick label formats
function fmtB(v) { return (v < 7.7 || v > 8.7) ? '' : v.toFixed(1); }
function fmtC(v) { return Math.round(v).toString(); }
function fmtD(v) { return v.toFixed(1); }

var grids = [
  aGrid,
  { left: 1158, top: 108, width: 796, height: 747 },
  { left: 157, top: 1108, width: 797, height: 747 },
  { left: 1158, top: 1108, width: 796, height: 747 }
];

var xAxes = [
  { type: 'value', gridIndex: 0, min: aX[0], max: aX[1], inverse: true, show: false },
  frameAxis('x', 1, 'bottom', 7.6, 8.78, 0.2, 4, xLabels(fmtB), 'R{sub|GC} (kpc)', 73),
  frameAxis('x', 1, 'top', 7.6, 8.78, 0.2, 4),
  frameAxis('x', 2, 'bottom', 0, 6, 1, 10, xLabels(fmtC), 'D cos(b) sin(l) (kpc)', 74),
  frameAxis('x', 2, 'top', 0, 6, 1, 10),
  frameAxis('x', 3, 'bottom', 0, 2, 0.5, 5, xLabels(fmtD), 'D cos(b) cos(l) (kpc)', 74),
  frameAxis('x', 3, 'top', 0, 2, 0.5, 5)
];

var yAxes = [
  { type: 'value', gridIndex: 0, min: aY[0], max: aY[1], show: false },
  frameAxis('y', 1, 'left', 0, 2, 0.5, 5, yLabels(), 'Z (kpc)', 92),
  frameAxis('y', 1, 'right', 0, 2, 0.5, 5),
  frameAxis('y', 2, 'left', 0, 2, 0.5, 5, yLabels(), 'Z (kpc)', 92),
  frameAxis('y', 2, 'right', 0, 2, 0.5, 5),
  frameAxis('y', 3, 'left', 0, 2, 0.5, 5, yLabels(), 'Z (kpc)', 92),
  frameAxis('y', 3, 'right', 0, 2, 0.5, 5)
];

// the stars of one panel, drawn in the same order for b, c and d
function panelStars(xi, yi, s) {
  return [
    dots(s.orangeOpen, ORANGE, false, xi, yi),
    dots(s.redOpen, RED, false, xi, yi),
    dots(s.blueOpen, BLUE, false, xi, yi),
    dots(s.orangeFilled, ORANGE, true, xi, yi),
    dots(s.redFilled, RED, true, xi, yi),
    dots(s.blueFilled, BLUE, true, xi, yi),
    dots(s.greenOpen, GREEN, false, xi, yi)
  ];
}

var series = [];

// panel a: solar circle, dotted l = 0/180 and 90/270 lines, GC and Sun
series.push({
  type: 'scatter', xAxisIndex: 0, yAxisIndex: 0, silent: true, z: 1,
  data: [[0, R0]], symbol: 'circle',
  symbolSize: [2 * R0 * pxX, 2 * R0 * pxY],
  itemStyle: { color: 'rgba(255,255,255,0)', borderColor: '#bebebe', borderWidth: 2.8 },
  markLine: {
    silent: true, symbol: 'none', animation: false,
    label: { show: false },
    lineStyle: { color: '#000', width: 3, type: [3, 7] },
    data: [{ xAxis: 0 }, { yAxis: 0 }]
  }
});
series.push(dots(aRedOpen, RED, false, 0, 0, 9));
series.push(dots(aRedFilled, RED, true, 0, 0, 9));
series.push(dots(aBlueOpen, BLUE, false, 0, 0, 9));
series.push(dots(aBlueFilled, BLUE, true, 0, 0, 9));
series.push(dots(aGreenOpen, GREEN, false, 0, 0, 9));
series.push({
  type: 'scatter', xAxisIndex: 0, yAxisIndex: 0, silent: true, z: 5,
  data: [[0, R0]], symbol: 'circle', symbolSize: 24, itemStyle: { color: '#000' },
  label: { show: true, position: 'right', distance: 8, offset: [0, -10], formatter: 'GC',
           fontFamily: FONT, fontSize: 36, color: '#000' }
});
series.push({
  type: 'scatter', xAxisIndex: 0, yAxisIndex: 0, silent: true, z: 5,
  data: [[0, 0]], symbol: 'circle', symbolSize: 26,
  itemStyle: { color: 'rgba(255,255,255,0)', borderColor: '#b0603a', borderWidth: 1.6 }
});
series.push({
  type: 'scatter', xAxisIndex: 0, yAxisIndex: 0, silent: true, z: 5,
  data: [[0, 0]], symbol: 'circle', symbolSize: 10, itemStyle: { color: '#a0522d' }
});

series = series.concat(panelStars(1, 1, {
  greenOpen: bGreenOpen, blueOpen: bBlueOpen, blueFilled: bBlueFilled,
  orangeOpen: bOrangeOpen, orangeFilled: bOrangeFilled, redOpen: bRedOpen, redFilled: bRedFilled
}));
series = series.concat(panelStars(3, 3, {
  greenOpen: cGreenOpen, blueOpen: cBlueOpen, blueFilled: cBlueFilled,
  orangeOpen: cOrangeOpen, orangeFilled: cOrangeFilled, redOpen: cRedOpen, redFilled: cRedFilled
}));
series = series.concat(panelStars(5, 5, {
  greenOpen: dGreenOpen, blueOpen: dBlueOpen, blueFilled: dBlueFilled,
  orangeOpen: dOrangeOpen, orangeFilled: dOrangeFilled, redOpen: dRedOpen, redFilled: dRedFilled
}));

function txt(x, y, text, size, color, rich) {
  return {
    type: 'text', x: x, y: y, silent: true,
    style: {
      text: text, fontFamily: FONT, fontSize: size, fill: color || '#000',
      align: 'left', verticalAlign: 'middle', rich: rich
    }
  };
}

var degRich = { d: { fontFamily: FONT, fontSize: 28, fill: '#000', padding: [0, 0, 20, 0] } };

var graphics = [
  txt(201, 185, 'a)', 56),
  txt(1203, 185, 'b)', 56),
  txt(201, 1185, 'c)', 56),
  txt(1203, 1185, 'd)', 56),
  txt(565, 123, '0{d|°}', 42, '#000', degRich),
  txt(178, 762, '90{d|°}', 42, '#000', degRich),
  txt(875, 762, '270{d|°}', 42, '#000', degRich),
  txt(568, 836, '180{d|°}', 42, '#000', degRich),
  txt(1697, 172, 'Dwarf', 48, GREEN),
  txt(1697, 229, 'RGB', 48, BLUE),
  txt(1697, 285, 'RC', 48, ORANGE),
  txt(1697, 342, 'No class', 48, RED)
];

var chart = echarts.init(document.getElementById('main'), null, { renderer: 'canvas' });
chart.setOption({
  backgroundColor: '#fff',
  animation: false,
  grid: grids,
  xAxis: xAxes,
  yAxis: yAxes,
  series: series,
  graphic: graphics
});
</script>
</body>
</html>
